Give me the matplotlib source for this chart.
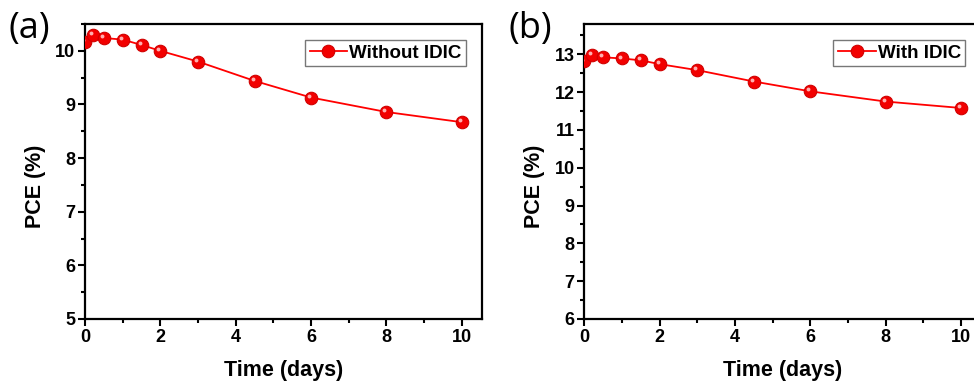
import matplotlib
matplotlib.use("Agg")
import matplotlib.pyplot as plt
from matplotlib.ticker import MultipleLocator
from matplotlib.transforms import ScaledTranslation

plt.rcParams['font.family'] = ['Liberation Sans', 'DejaVu Sans']
plt.rcParams['font.weight'] = 'bold'

# data
days = [0, 0.2, 0.5, 1, 1.5, 2, 3, 4.5, 6, 8, 10]
pce_without = [10.17, 10.29, 10.24, 10.21, 10.11, 10.0, 9.80, 9.44, 9.13, 8.86, 8.67]
pce_with = [12.81, 12.97, 12.92, 12.89, 12.84, 12.74, 12.58, 12.28, 12.02, 11.75, 11.58]
labels = ["Without IDIC", "With IDIC"]
panel_tags = ["(a)", "(b)"]
y_ranges = [(5, 10.5), (6, 13.8)]

fig = plt.figure(figsize=(9.74, 3.88), dpi=100)
ax_a = fig.add_axes([0.0873, 0.178, 0.4076, 0.760])
ax_b = fig.add_axes([0.600, 0.178, 0.4076, 0.760])

for ax, vals, lab, tag, yr in zip([ax_a, ax_b], [pce_without, pce_with],
                                  labels, panel_tags, y_ranges):
    ax.plot(days, vals, color='#ff0000', lw=1.3, marker='o', ms=9,
            mfc='#f20000', mec='#d00000', mew=0.8, label=lab, zorder=3)
    # small highlight on the balls
    off = ScaledTranslation(-1.4 / 72, 1.4 / 72, fig.dpi_scale_trans)
    ax.plot(days, vals, ls='none', marker='o', ms=2.8, mfc='#ffb0b0',
            mec='none', transform=ax.transData + off, zorder=4)
    ax.set_xlim(0, 10.54)
    ax.set_ylim(*yr)
    ax.xaxis.set_major_locator(MultipleLocator(2))
    ax.xaxis.set_minor_locator(MultipleLocator(1))
    ax.yaxis.set_major_locator(MultipleLocator(1))
    ax.yaxis.set_minor_locator(MultipleLocator(0.5))
    ax.tick_params(which='both', direction='out', width=1.5, labelsize=13, pad=2)
    ax.tick_params(which='major', length=5)
    ax.tick_params(which='minor', length=3)
    for s in ax.spines.values():
        s.set_linewidth(1.6)
    ax.set_xlabel("Time (days)", fontsize=15.5, fontweight='bold', labelpad=10)
    ax.set_ylabel("PCE (%)", fontsize=15.5, fontweight='bold')
    ax.yaxis.set_label_coords(-0.098, 0.45)
    leg = ax.legend(loc='upper right', fontsize=13.5, fancybox=False,
                    framealpha=1, borderpad=0.25, handletextpad=0.1,
                    borderaxespad=0.85, handlelength=2.0)
    leg.get_frame().set_edgecolor('#777777')
    leg.get_frame().set_linewidth(1.0)

fig.text(0.009, 0.925, panel_tags[0], fontsize=26, fontweight='normal',
         family=['Open Sans', 'DejaVu Sans'], va='center')
fig.text(0.522, 0.925, panel_tags[1], fontsize=26, fontweight='normal',
         family=['Open Sans', 'DejaVu Sans'], va='center')

fig.savefig("out.png", dpi=100)
